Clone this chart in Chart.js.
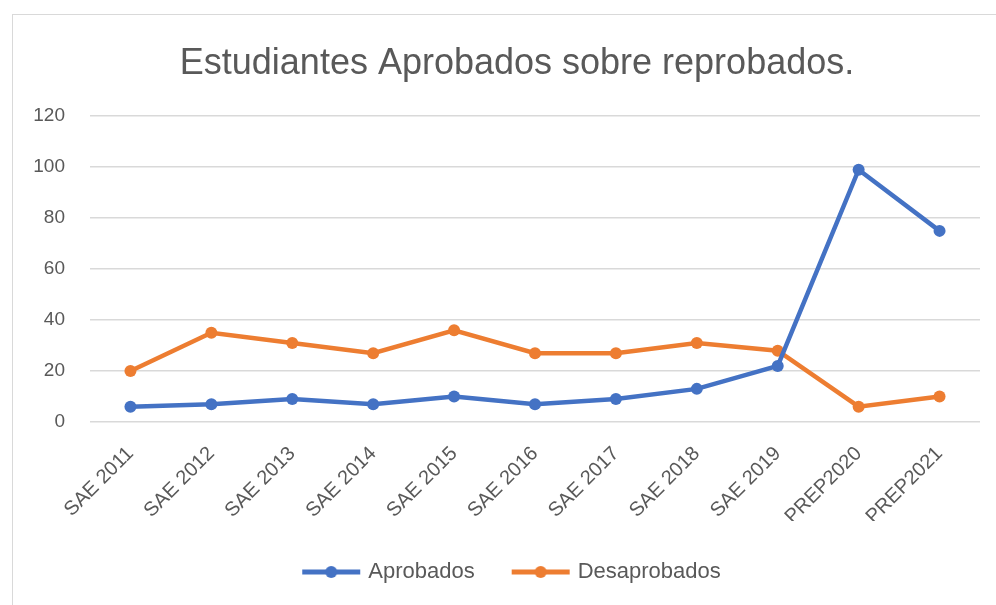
<!DOCTYPE html>
<html>
<head>
<meta charset="utf-8">
<script src="https://cdn.jsdelivr.net/npm/chart.js@4"></script>
<style>
    html, body { margin: 0; padding: 0; background: #fff; }
    #wrap { position: relative; width: 996px; height: 605px; overflow: hidden; }
    #frame { position: absolute; left: 12px; top: 14px; width: 1040px; height: 620px; border: 1px solid #d9d9d9; box-sizing: border-box; }
    #chart { position: absolute; left: 0; top: 0; }
</style>
</head>
<body>
<div id="wrap">
    <div id="frame"></div>
    <canvas id="chart" width="996" height="605"></canvas>
</div>
<script>
// Data
const categories = ['SAE 2011', 'SAE 2012', 'SAE 2013', 'SAE 2014', 'SAE 2015', 'SAE 2016',
    'SAE 2017', 'SAE 2018', 'SAE 2019', 'PREP2020', 'PREP2021'];
const aprobados = [6, 7, 9, 7, 10, 7, 9, 13, 22, 99, 75];
const desaprobados = [20, 35, 31, 27, 36, 27, 27, 31, 28, 6, 10];
const yTicks = [0, 20, 40, 60, 80, 100, 120];

const BLUE = '#4472c4';
const ORANGE = '#ed7d31';
const TEXT = '#595959';
const FONT = "'Liberation Sans', Arial, sans-serif";

// legend marker: short line with a dot in the middle
function legendMarker(color) {
    const c = document.createElement('canvas');
    c.width = 60;
    c.height = 14;
    const ctx = c.getContext('2d');
    ctx.strokeStyle = color;
    ctx.lineWidth = 5;
    ctx.beginPath();
    ctx.moveTo(1, 7);
    ctx.lineTo(59, 7);
    ctx.stroke();
    ctx.fillStyle = color;
    ctx.beginPath();
    ctx.arc(30, 7, 6, 0, Math.PI * 2);
    ctx.fill();
    return c;
}

// title and legend sit a little right of the plot centre in the original
const shiftBlocks = {
    id: 'shiftBlocks',
    afterLayout(chart) {
        if (chart.titleBlock) chart.titleBlock.left = 54;
        if (chart.legend) chart.legend.left = 46;
    }
};

new Chart(document.getElementById('chart'), {
    type: 'line',
    data: {
        labels: categories,
        datasets: [
            {
                label: 'Aprobados',
                data: aprobados,
                borderColor: BLUE,
                backgroundColor: BLUE
            },
            {
                label: 'Desaprobados',
                data: desaprobados,
                borderColor: ORANGE,
                backgroundColor: ORANGE
            }
        ]
    },
    plugins: [shiftBlocks],
    options: {
        responsive: false,
        animation: false,
        layout: { padding: { left: 0, right: 16, top: 0, bottom: 12 } },
        elements: {
            line: { borderWidth: 4.5, tension: 0 },
            point: { pointStyle: 'circle', radius: 6, borderWidth: 0, hoverRadius: 6 }
        },
        plugins: {
            title: {
                display: true,
                text: 'Estudiantes Aprobados sobre reprobados.',
                color: TEXT,
                font: { family: FONT, size: 36, weight: 'normal' },
                padding: { top: 42, bottom: 31 }
            },
            legend: {
                position: 'bottom',
                labels: {
                    color: TEXT,
                    font: { family: FONT, size: 22 },
                    usePointStyle: true,
                    pointStyleWidth: 52,
                    padding: 40,
                    generateLabels(chart) {
                        return chart.data.datasets.map((ds, i) => ({
                            text: ds.label,
                            fontColor: TEXT,
                            pointStyle: legendMarker(ds.borderColor),
                            lineWidth: 0,
                            strokeStyle: ds.borderColor,
                            fillStyle: ds.borderColor,
                            datasetIndex: i
                        }));
                    }
                }
            },
            tooltip: { enabled: false }
        },
        scales: {
            x: {
                offset: true,
                grid: { display: false, drawTicks: false },
                border: { display: false },
                ticks: {
                    color: TEXT,
                    font: { family: FONT, size: 20 },
                    minRotation: 45,
                    maxRotation: 45,
                    padding: 20
                },
                afterFit(scale) { scale.height = 99; }
            },
            y: {
                min: 0,
                max: 120,
                grid: { color: '#d9d9d9', lineWidth: 1.5, drawTicks: false },
                border: { display: false },
                afterBuildTicks(scale) {
                    scale.ticks = yTicks.map(v => ({ value: v }));
                },
                ticks: {
                    color: TEXT,
                    font: { family: FONT, size: 19 },
                    padding: 25
                },
                afterFit(scale) { scale.width = 90; }
            }
        }
    }
});
</script>
</body>
</html>
